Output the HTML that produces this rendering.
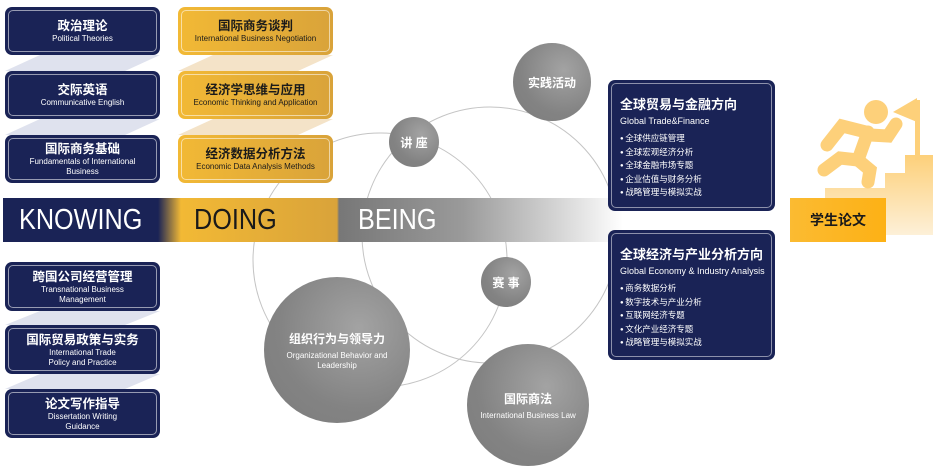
<!DOCTYPE html>
<html><head><meta charset="utf-8"><style>
*{margin:0;padding:0;box-sizing:border-box}
body{width:939px;height:470px;background:#fff;position:relative;overflow:hidden;font-family:"Liberation Sans","Noto Sans CJK SC",sans-serif}
.b{position:absolute;border-radius:7px;display:flex;flex-direction:column;align-items:center;justify-content:center;text-align:center}
.b::after{content:"";position:absolute;left:3px;top:3px;right:3px;bottom:3px;border:1px solid rgba(255,255,255,.55);border-radius:5px}
.n{background:#1a2356;color:#fff}
.g{background:linear-gradient(90deg,#f2b935,#d9a33a);color:#1a1a1a}
.b .t{font-weight:bold;font-size:12.5px;line-height:16px}
.b .s{font-size:8px;line-height:10px}
.c{position:absolute;border-radius:50%;background:radial-gradient(circle at 65% 35%,#a3a3a3,#838383 60%,#7c7c7c);color:#fff;display:flex;flex-direction:column;align-items:center;justify-content:center;text-align:center}
.c .t{font-weight:bold;font-size:12px}
.c .s{font-size:8px;line-height:10px}
.r{position:absolute;background:#1a2356;border-radius:7px;color:#fff;padding:14px 0 0 12px}
.r::after{content:"";position:absolute;left:3px;top:3px;right:3px;bottom:3px;border:1px solid rgba(255,255,255,.5);border-radius:5px}
.r .t{font-weight:bold;font-size:13px}
.r .s{font-size:9px;margin-top:3px;margin-bottom:6px}
.r li{font-size:8.5px;line-height:12.5px;list-style:none}
.r li::before{content:"● ";font-size:6px;vertical-align:1px}
.band{position:absolute;top:198px;height:44px;font-size:29px;line-height:44px;transform:scaleX(0.87);transform-origin:0 0}
</style></head><body>
<svg width="939" height="470" style="position:absolute;left:0;top:0">
<g fill="#dfe2ee">
<polygon points="40,55 160,55 125,71 5,71"/><polygon points="40,119 160,119 125,135 5,135"/>
<polygon points="40,311 160,311 125,325 5,325"/><polygon points="40,374 160,374 125,389 5,389"/>
</g>
<g fill="#f4e3c8">
<polygon points="213,55 333,55 298,71 178,71"/><polygon points="213,119 333,119 298,135 178,135"/>
</g>
<g fill="none" stroke="#c4c4c4" stroke-width="1">
<circle cx="380" cy="260" r="127"/>
<circle cx="490" cy="235" r="128"/>
</g>
</svg>
<div class="b n" style="left:5px;top:7px;width:155px;height:48px"><div class="t">政治理论</div><div class="s">Political Theories</div></div>
<div class="b n" style="left:5px;top:71px;width:155px;height:48px"><div class="t">交际英语</div><div class="s">Communicative English</div></div>
<div class="b n" style="left:5px;top:135px;width:155px;height:48px"><div class="t">国际商务基础</div><div class="s">Fundamentals of International<br>Business</div></div>
<div class="b g" style="left:178px;top:7px;width:155px;height:48px"><div class="t">国际商务谈判</div><div class="s">International Business Negotiation</div></div>
<div class="b g" style="left:178px;top:71px;width:155px;height:48px"><div class="t">经济学思维与应用</div><div class="s">Economic Thinking and Application</div></div>
<div class="b g" style="left:178px;top:135px;width:155px;height:48px"><div class="t">经济数据分析方法</div><div class="s">Economic Data Analysis Methods</div></div>
<div class="b n" style="left:5px;top:262px;width:155px;height:49px"><div class="t">跨国公司经营管理</div><div class="s">Transnational Business<br>Management</div></div>
<div class="b n" style="left:5px;top:325px;width:155px;height:49px"><div class="t">国际贸易政策与实务</div><div class="s">International Trade<br>Policy and Practice</div></div>
<div class="b n" style="left:5px;top:389px;width:155px;height:49px"><div class="t">论文写作指导</div><div class="s">Dissertation Writing<br>Guidance</div></div>
<div style="position:absolute;left:3px;top:198px;width:640px;height:44px;background:linear-gradient(90deg,#1a2356 0,#1a2356 155px,#f2b935 178px,#d9a33a 334px,#777 336px,#9a9a9a 460px,#d8d8d8 560px,#fff 620px)"></div>
<div class="band" style="left:19px;color:#fff">KNOWING</div>
<div class="band" style="left:194px;color:#1a1a1a">DOING</div>
<div class="band" style="left:358px;color:#fff">BEING</div>
<div class="c" style="left:513px;top:43px;width:78px;height:78px"><div class="t">实践活动</div></div>
<div class="c" style="left:389px;top:117px;width:50px;height:50px"><div class="t">讲 座</div></div>
<div class="c" style="left:481px;top:257px;width:50px;height:50px"><div class="t">赛 事</div></div>
<div class="c" style="left:264px;top:277px;width:146px;height:146px"><div class="t">组织行为与领导力</div><div class="s" style="margin-top:4px">Organizational Behavior and<br>Leadership</div></div>
<div class="c" style="left:467px;top:344px;width:122px;height:122px"><div class="t">国际商法</div><div class="s" style="margin-top:4px">International Business Law</div></div>
<div class="r" style="left:608px;top:80px;width:167px;height:131px"><div class="t">全球贸易与金融方向</div><div class="s">Global Trade&amp;Finance</div><ul><li>全球供应链管理</li><li>全球宏观经济分析</li><li>全球金融市场专题</li><li>企业估值与财务分析</li><li>战略管理与模拟实战</li></ul></div>
<div class="r" style="left:608px;top:230px;width:167px;height:130px"><div class="t">全球经济与产业分析方向</div><div class="s">Global Economy &amp; Industry Analysis</div><ul><li>商务数据分析</li><li>数字技术与产业分析</li><li>互联网经济专题</li><li>文化产业经济专题</li><li>战略管理与模拟实战</li></ul></div>
<svg width="160" height="160" style="position:absolute;left:780px;top:90px">
<defs><linearGradient id="st" x1="0" y1="0" x2="0" y2="1"><stop offset="0" stop-color="#fdd07a"/><stop offset="1" stop-color="#fdf0d8"/></linearGradient></defs>
<path d="M45,98 h60 v-15 h20 v-18 h28 v80 h-108z" fill="url(#st)"/>
<rect x="135" y="10" width="5" height="60" fill="#fdd07a"/>
<polygon points="137,8 113,22 137,32" fill="#fdd07a"/>
<circle cx="96" cy="22" r="12" fill="#fdd07a"/>
<g stroke="#fdd07a" stroke-width="13" stroke-linecap="round" fill="none">
<path d="M88,42 L78,70"/><path d="M86,42 L62,36 L47,55"/><path d="M90,45 L108,46 L116,34"/>
<path d="M78,70 L90,80 L88,92"/><path d="M78,70 L60,68 L44,80"/>
</g>
</svg>
<div style="position:absolute;left:790px;top:198px;width:96px;height:44px;background:linear-gradient(90deg,#fbbb32,#fdb115);display:flex;align-items:center;justify-content:center;font-weight:bold;font-size:14px;color:#1a1a1a">学生论文</div>
</body></html>
